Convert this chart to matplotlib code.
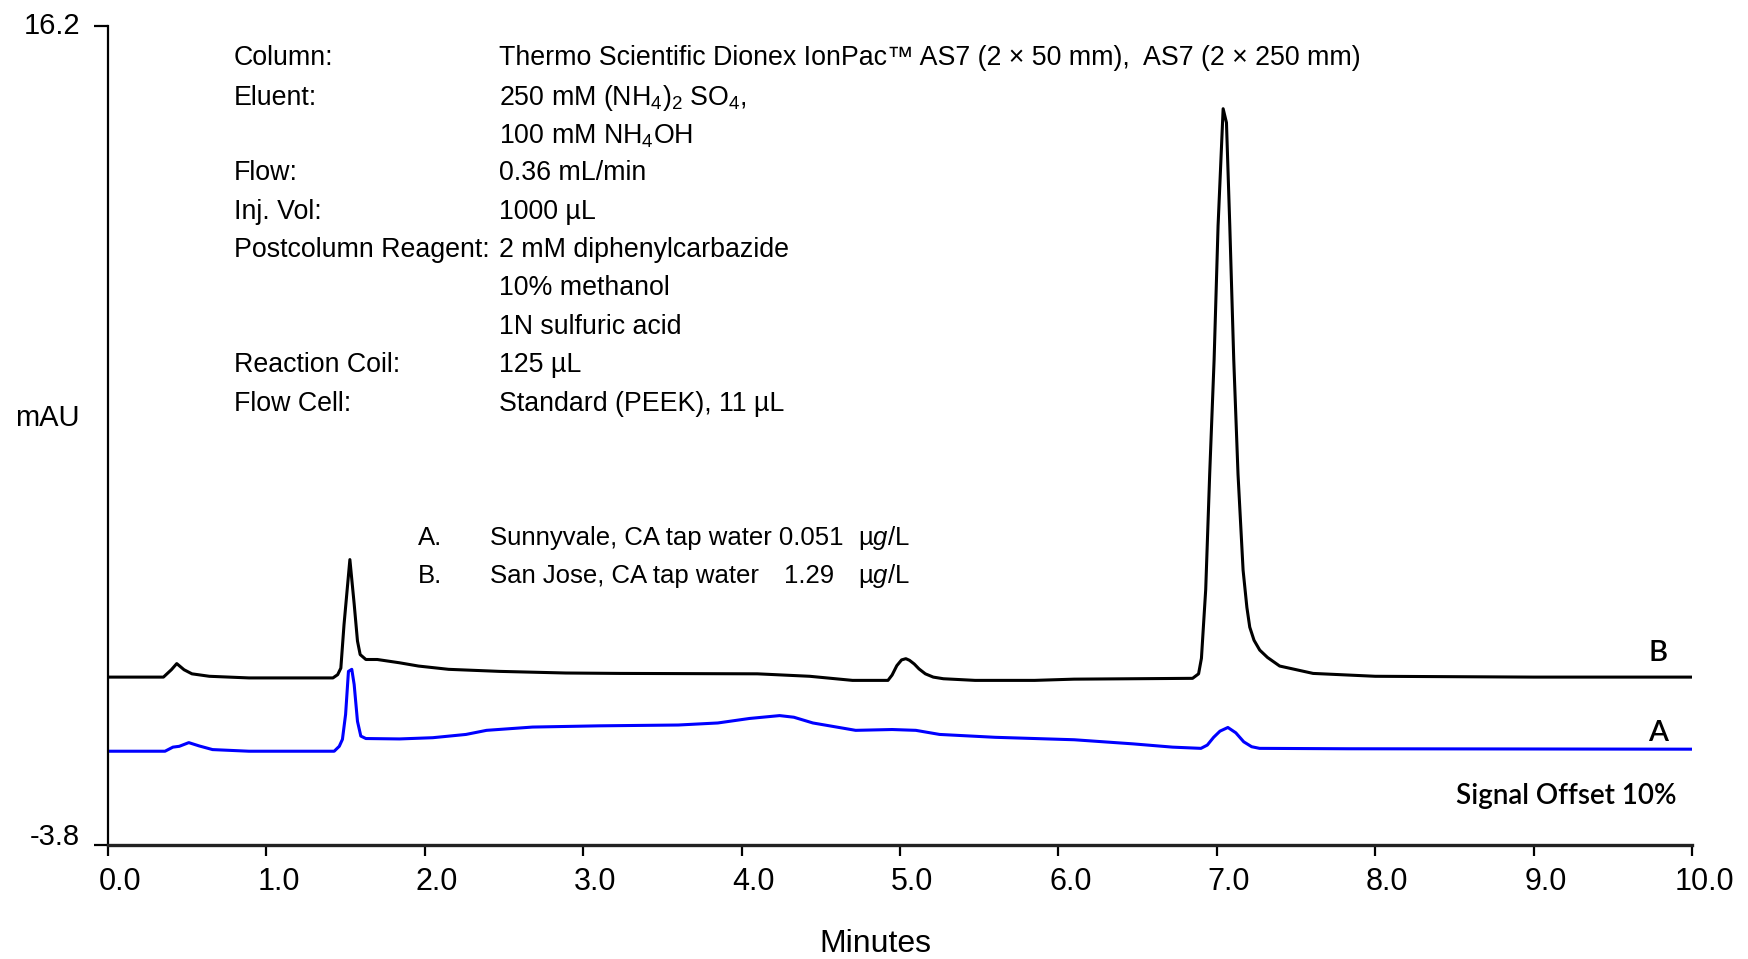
import matplotlib
matplotlib.use("Agg")
import matplotlib.pyplot as plt
from matplotlib.transforms import ScaledTranslation

# ---------------- data ----------------
time_b = [0.00, 0.35, 0.40, 0.434, 0.48, 0.53, 0.64, 0.89, 1.42, 1.45, 1.47, 1.49,
          1.527, 1.554, 1.575, 1.592, 1.628, 1.70, 1.84, 1.96, 2.15, 2.47, 2.89, 3.23,
          4.10, 4.43, 4.70, 4.924, 4.95, 4.98, 5.01, 5.037, 5.06, 5.09, 5.12, 5.16,
          5.21, 5.274, 5.474, 5.85,
          6.098, 6.847, 6.885, 6.903, 6.930, 6.955, 6.983, 7.008, 7.040, 7.061, 7.082,
          7.107, 7.134, 7.166, 7.19, 7.208, 7.235, 7.271, 7.32, 7.397, 7.608, 8.0,
          9.0, 10.0]
signal_b = [0.30, 0.30, 0.48, 0.63, 0.48, 0.38, 0.32, 0.28, 0.28, 0.36, 0.52, 1.58,
            3.17, 2.09, 1.18, 0.85, 0.73, 0.73, 0.65, 0.57, 0.49, 0.44, 0.40, 0.39,
            0.38, 0.32, 0.22, 0.22, 0.35, 0.58, 0.72, 0.75, 0.71, 0.62, 0.50, 0.38,
            0.30, 0.26, 0.22, 0.22,
            0.25, 0.27, 0.38, 0.76, 2.44, 5.25, 8.05, 11.32, 14.18, 13.84, 11.32,
            8.05, 5.25, 2.91, 2.0, 1.52, 1.2, 0.96, 0.78, 0.57, 0.39, 0.32,
            0.30, 0.30]

time_a = [0.00, 0.36, 0.41, 0.45, 0.51, 0.575, 0.66, 0.89, 1.428, 1.46, 1.48, 1.50,
          1.518, 1.539, 1.554, 1.575, 1.596, 1.628, 1.84, 2.05, 2.26, 2.39, 2.68,
          3.10, 3.60, 3.85, 4.05, 4.24, 4.33, 4.45, 4.72, 4.95, 5.10, 5.25, 5.60,
          6.10, 6.47, 6.72, 6.90, 6.94, 6.98, 7.02, 7.07, 7.12, 7.17, 7.22, 7.27,
          7.83, 10.0]
signal_a = [-1.51, -1.51, -1.41, -1.39, -1.30, -1.38, -1.47, -1.51, -1.51, -1.39, -1.22, -0.61,
            0.44, 0.49, 0.12, -0.78, -1.14, -1.20, -1.21, -1.18, -1.10, -1.00, -0.92,
            -0.89, -0.87, -0.82, -0.71, -0.64, -0.68, -0.82, -1.00, -0.98, -1.00, -1.10, -1.17,
            -1.23, -1.33, -1.41, -1.44, -1.36, -1.17, -1.02, -0.93, -1.06, -1.28, -1.40, -1.44,
            -1.45, -1.46]

x_ticks = [0, 1, 2, 3, 4, 5, 6, 7, 8, 9, 10]
x_tick_labels = ["0.0", "1.0", "2.0", "3.0", "4.0", "5.0", "6.0", "7.0", "8.0", "9.0", "10.0"]
y_ticks = [-3.8, 16.2]
y_tick_labels = ["-3.8", "16.2"]

info_labels = ["Column:", "Eluent:", "", "Flow:", "Inj. Vol:", "Postcolumn Reagent:",
               "", "", "Reaction Coil:", "Flow Cell:"]
info_values = ["Thermo Scientific Dionex IonPac\u2122 AS7 (2 \u00d7 50 mm),  AS7 (2 \u00d7 250 mm)",
               "250 mM (NH$_4$)$_2$ SO$_4$,",
               "100 mM NH$_4$OH",
               "0.36 mL/min",
               "1000 \u00b5L",
               "2 mM diphenylcarbazide",
               "10% methanol",
               "1N sulfuric acid",
               "125 \u00b5L",
               "Standard (PEEK), 11 \u00b5L"]

sample_keys = ["A.", "B."]
sample_names = ["Sunnyvale, CA tap water 0.051", "San Jose, CA tap water"]
sample_conc = ["", "1.29"]
sample_unit = "\u00b5$g$/L"

# ---------------- figure ----------------
W, H = 1748, 959
DPI = 100
plt.rcParams["font.family"] = ["Liberation Sans", "DejaVu Sans"]
plt.rcParams["mathtext.fontset"] = "custom"
plt.rcParams["mathtext.rm"] = "Liberation Sans"
plt.rcParams["mathtext.it"] = "Liberation Sans:italic"
plt.rcParams["mathtext.bf"] = "Liberation Sans:bold"

fig = plt.figure(figsize=(W / DPI, H / DPI), dpi=DPI)
left, right, top, bottom = 108, 1692, 26, 845
ax = fig.add_axes([left / W, 1 - bottom / H, (right - left) / W, (bottom - top) / H])

ax.plot(time_b, signal_b, color="black", lw=2.2, solid_joinstyle="round")
ax.plot(time_a, signal_a, color="#0000ff", lw=2.2, solid_joinstyle="round")

ax.set_xlim(0, 10)
ax.set_ylim(-3.8, 16.2)
for s in ["top", "right"]:
    ax.spines[s].set_visible(False)
ax.spines["left"].set_linewidth(1.6)
ax.spines["bottom"].set_linewidth(2.4)
ax.spines["bottom"].set_color("#222222")

ax.set_xticks(x_ticks)
ax.set_xticklabels(x_tick_labels, fontsize=22)
ax.set_yticks(y_ticks)
ax.set_yticklabels(y_tick_labels, fontsize=21)
ax.tick_params(axis="x", direction="out", length=8, width=1.6, pad=8)
ax.tick_params(axis="y", direction="out", length=10, width=1.6, pad=10)

for lbl in ax.get_xticklabels():
    lbl.set_transform(lbl.get_transform() + ScaledTranslation(12 / DPI, 0, fig.dpi_scale_trans))
for lbl, dy in zip(ax.get_yticklabels(), [11, 3]):
    lbl.set_transform(lbl.get_transform() + ScaledTranslation(0, dy / DPI, fig.dpi_scale_trans))

def fx(px):
    return px / W

def fy(py):
    return 1 - py / H

fig.text(fx(875), fy(944), "Minutes", fontsize=23, ha="center", va="center")
fig.text(fx(47), fy(418), "mAU", fontsize=21, ha="center", va="center")

# info block
base0 = 65
step = 38.4
for i, (lab, val) in enumerate(zip(info_labels, info_values)):
    yb = base0 + i * step
    if i in (1, 2):
        yb += 2
    if lab:
        fig.text(fx(234), fy(yb), lab, fontsize=19.3, ha="left", va="baseline")
    fig.text(fx(499), fy(yb), val, fontsize=19.3, ha="left", va="baseline")

# sample list
for i, (k, nm, cc) in enumerate(zip(sample_keys, sample_names, sample_conc)):
    yb = 545 + i * 38
    fig.text(fx(418), fy(yb), k, fontsize=18.5, ha="left", va="baseline")
    fig.text(fx(490), fy(yb), nm, fontsize=18.5, ha="left", va="baseline")
    if cc:
        fig.text(fx(784), fy(yb), cc, fontsize=18.5, ha="left", va="baseline")
    fig.text(fx(858), fy(yb), sample_unit, fontsize=18.5, ha="left", va="baseline")

# trace labels
fig.text(fx(1658), fy(653), "B", fontsize=21, ha="center", va="center",
         family="Lato", fontweight="semibold")
fig.text(fx(1658), fy(733), "A", fontsize=21, ha="center", va="center",
         family="Lato", fontweight="semibold")
fig.text(fx(1566), fy(796), "Signal Offset 10%", fontsize=20, ha="center", va="center",
         family="Lato", fontweight="semibold")

fig.savefig("out.png", dpi=DPI)
